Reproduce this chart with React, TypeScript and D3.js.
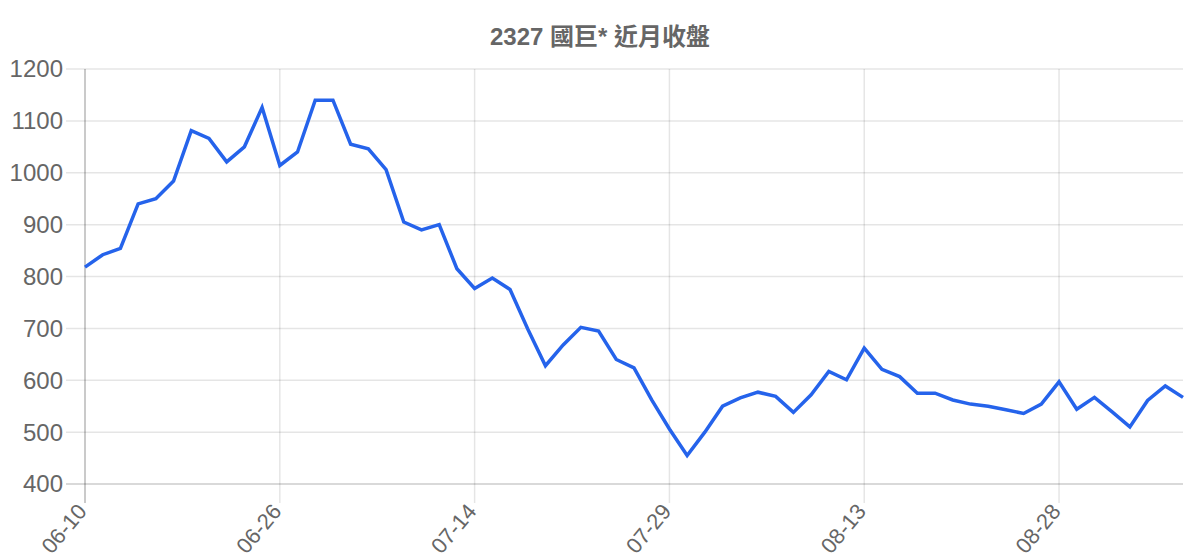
import { useEffect, useRef } from 'react';
import * as d3 from 'd3';

const title = '2327 國巨* 近月收盤';

const dates = [
  '06-10', '06-11', '06-12', '06-13', '06-14', '06-17', '06-18', '06-19', '06-20', '06-21', '06-24',
  '06-26', '06-27', '06-28', '07-01', '07-02', '07-03', '07-04', '07-07', '07-08', '07-09', '07-10',
  '07-14', '07-15', '07-16', '07-17', '07-18', '07-21', '07-22', '07-23', '07-24', '07-25', '07-28',
  '07-29', '07-30', '07-31', '08-01', '08-04', '08-05', '08-06', '08-07', '08-08', '08-11', '08-12',
  '08-13', '08-14', '08-15', '08-18', '08-19', '08-20', '08-21', '08-22', '08-25', '08-26', '08-27',
  '08-28', '08-29', '09-01', '09-02', '09-03', '09-04', '09-05', '09-08',
];

const closes = [
  818, 842, 854, 940, 950, 984, 1081, 1066, 1021, 1050, 1126,
  1014, 1040, 1140, 1140, 1055, 1046, 1006, 905, 890, 900, 815,
  777, 797, 775, 699, 628, 668, 702, 695, 640, 624, 562,
  506, 455, 500, 550, 566, 577, 569, 538, 572, 617, 601,
  662, 621, 607, 575, 575, 562, 554, 550, 543, 536, 554,
  597, 544, 567, 539, 510, 561, 589, 567,
];

const yTicks = [400, 500, 600, 700, 800, 900, 1000, 1100, 1200];

const FONT = '"Liberation Sans", Arial, "Noto Sans CJK TC", sans-serif';

const StockChart = (): JSX.Element => {
  const ref = useRef<SVGSVGElement>(null);

  useEffect(() => {
    const width = 1200;
    const height = 560;
    const left = 85;
    const right = 1183;
    const top = 69;
    const bottom = 484;
    const tickLen = 19;

    const svg = d3.select(ref.current);
    svg.selectAll('*').remove();

    const x = d3.scalePoint<string>().domain(dates).range([left, right]);
    const y = d3.scaleLinear().domain([400, 1200]).range([bottom, top]);

    svg.attr('width', width).attr('height', height);

    // title
    svg.append('text')
      .attr('x', width / 2)
      .attr('y', 45)
      .attr('text-anchor', 'middle')
      .attr('font-family', FONT)
      .attr('font-size', 24)
      .attr('font-weight', 'bold')
      .attr('fill', '#666')
      .text(title);

    // horizontal grid + y labels
    const yg = svg.append('g');
    yg.selectAll('line')
      .data(yTicks)
      .enter()
      .append('line')
      .attr('x1', left - tickLen)
      .attr('x2', right)
      .attr('y1', d => y(d))
      .attr('y2', d => y(d))
      .attr('stroke', d => (d === 400 ? 'rgba(0,0,0,0.2)' : 'rgba(0,0,0,0.1)'))
      .attr('stroke-width', 1.5);
    yg.selectAll('text')
      .data(yTicks)
      .enter()
      .append('text')
      .attr('x', left - tickLen - 3)
      .attr('y', d => y(d))
      .attr('dy', '0.35em')
      .attr('text-anchor', 'end')
      .attr('font-family', FONT)
      .attr('font-size', 24)
      .attr('fill', '#666')
      .text(d => d);

    // vertical grid + x labels
    const xTicks = dates.filter((_d, i) => i % 11 === 0);
    const xg = svg.append('g');
    xg.selectAll('line')
      .data(xTicks)
      .enter()
      .append('line')
      .attr('x1', d => x(d)!)
      .attr('x2', d => x(d)!)
      .attr('y1', top)
      .attr('y2', bottom + tickLen)
      .attr('stroke', (_d, i) => (i === 0 ? 'rgba(0,0,0,0.28)' : 'rgba(0,0,0,0.1)'))
      .attr('stroke-width', 1.5);
    xg.selectAll('text')
      .data(xTicks)
      .enter()
      .append('text')
      .attr('transform', d => `translate(${x(d)! - 3},${bottom + 23}) rotate(-50)`)
      .attr('dy', '0.35em')
      .attr('text-anchor', 'end')
      .attr('font-family', FONT)
      .attr('font-size', 22)
      .attr('fill', '#666')
      .text(d => d);

    // close line
    const line = d3.line<number>()
      .x((_d, i) => x(dates[i])!)
      .y(d => y(d));

    svg.append('path')
      .datum(closes)
      .attr('d', line)
      .attr('fill', 'none')
      .attr('stroke', '#2563eb')
      .attr('stroke-width', 3.5)
      .attr('stroke-linejoin', 'miter');
  }, []);

  return <svg ref={ref} style={{ display: 'block' }} />;
};

const App = (): JSX.Element => (
  <div style={{ position: 'absolute', left: 0, top: 0, background: '#fff' }}>
    <StockChart />
  </div>
);

export default App;
